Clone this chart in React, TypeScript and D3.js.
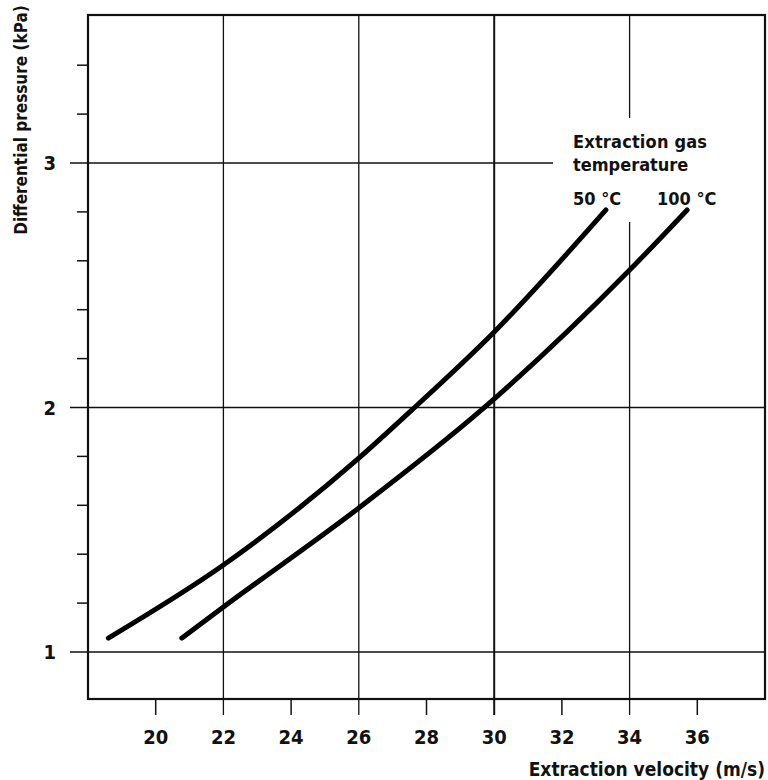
import { useRef, useEffect } from "react";
import * as d3 from "d3";

// readings
const vel50 = [18.6, 22, 26, 27.6, 30, 33.3];
const dp50 = [1.057, 1.356, 1.793, 1.994, 2.309, 2.808];
const vel100 = [20.77, 22, 26, 29.66, 34, 35.7];
const dp100 = [1.057, 1.184, 1.589, 1.994, 2.562, 2.808];

const xTicks = [20, 22, 24, 26, 28, 30, 32, 34, 36];
const xGrid = [22, 26, 30, 34];
const yMajor = [1, 2, 3];
const yMinor = [1.2, 1.4, 1.6, 1.8, 2.2, 2.4, 2.6, 2.8, 3.2, 3.4];

const FONT = "'DejaVu Sans Condensed', 'DejaVu Sans', sans-serif";

function Chart() {
  const svgRef = useRef<SVGSVGElement>(null);

  useEffect(() => {
    const w = 768;
    const h = 780;
    const left = 88, right = 765, top = 15, bottom = 699;

    const svg = d3.select(svgRef.current)
      .attr("width", w)
      .attr("height", h);
    svg.selectAll("*").remove();

    const x = d3.scaleLinear().domain([18, 38]).range([left, right]);
    const y = d3.scaleLinear().domain([1, 3]).range([652, 163]);

    const g = svg.append("g");

    // horizontal grid lines at 1, 2, 3
    g.selectAll(".hgrid")
      .data(yMajor)
      .enter()
      .append("line")
      .attr("x1", 70)
      .attr("x2", d => (d === 3 ? 553 : right))
      .attr("y1", d => y(d))
      .attr("y2", d => y(d))
      .attr("stroke", "#111")
      .attr("stroke-width", 1.3);

    // minor y ticks
    g.selectAll(".ytick")
      .data(yMinor)
      .enter()
      .append("line")
      .attr("x1", 77)
      .attr("x2", left)
      .attr("y1", d => y(d))
      .attr("y2", d => y(d))
      .attr("stroke", "#111")
      .attr("stroke-width", 1.5);

    // vertical grid lines
    xGrid.forEach(v => {
      const segs = v === 34 ? [[top, 118], [222, 715]] : [[top, 715]];
      segs.forEach(([a, b]) => {
        g.append("line")
          .attr("x1", x(v)).attr("x2", x(v))
          .attr("y1", a).attr("y2", b)
          .attr("stroke", "#111")
          .attr("stroke-width", v === 30 ? 2 : 1.3);
      });
    });

    // minor x ticks
    g.selectAll(".xtick")
      .data(xTicks.filter(t => !xGrid.includes(t)))
      .enter()
      .append("line")
      .attr("x1", d => x(d)).attr("x2", d => x(d))
      .attr("y1", bottom).attr("y2", 715)
      .attr("stroke", "#111")
      .attr("stroke-width", 1.5);

    // frame
    g.append("rect")
      .attr("x", left).attr("y", top)
      .attr("width", right - left).attr("height", bottom - top)
      .attr("fill", "none")
      .attr("stroke", "#111")
      .attr("stroke-width", 2.2);

    // tick labels
    g.selectAll(".xlab")
      .data(xTicks)
      .enter()
      .append("text")
      .attr("x", d => x(d))
      .attr("y", 744)
      .attr("text-anchor", "middle")
      .attr("font-family", FONT)
      .attr("font-weight", "bold")
      .attr("font-size", 20)
      .attr("fill", "#111")
      .text(d => d);

    g.selectAll(".ylab")
      .data(yMajor)
      .enter()
      .append("text")
      .attr("x", 56)
      .attr("y", d => y(d) + 7)
      .attr("text-anchor", "end")
      .attr("font-family", FONT)
      .attr("font-weight", "bold")
      .attr("font-size", 20)
      .attr("fill", "#111")
      .text(d => d);

    // curves
    const line = d3.line<[number, number]>()
      .x(d => x(d[0]))
      .y(d => y(d[1]))
      .curve(d3.curveMonotoneX);

    [[vel50, dp50], [vel100, dp100]].forEach(([vs, ps]) => {
      g.append("path")
        .datum(vs.map((v, i) => [v, ps[i]] as [number, number]))
        .attr("d", line)
        .attr("fill", "none")
        .attr("stroke", "#000")
        .attr("stroke-width", 5)
        .attr("stroke-linecap", "round");
    });

    // legend text
    const txt = (tx: number, ty: number, s: string, size = 18) =>
      g.append("text")
        .attr("x", tx).attr("y", ty)
        .attr("font-family", FONT)
        .attr("font-weight", "bold")
        .attr("font-size", size)
        .attr("fill", "#111")
        .text(s);

    txt(573, 148, "Extraction gas").attr("textLength", 134);
    txt(573, 171, "temperature");
    txt(573, 205, "50 °C");
    txt(657, 205, "100 °C");

    // axis titles
    txt(765, 776, "Extraction velocity (m/s)", 19).attr("text-anchor", "end");
    g.append("text")
      .attr("transform", "translate(27,120) rotate(-90)")
      .attr("text-anchor", "middle")
      .attr("font-family", FONT)
      .attr("font-weight", "bold")
      .attr("font-size", 17)
      .attr("fill", "#111")
      .text("Differential pressure (kPa)");
  }, []);

  return <svg ref={svgRef} style={{ position: "absolute", left: 0, top: 0, background: "#fff" }} />;
}

export default function App() {
  return <Chart />;
}
